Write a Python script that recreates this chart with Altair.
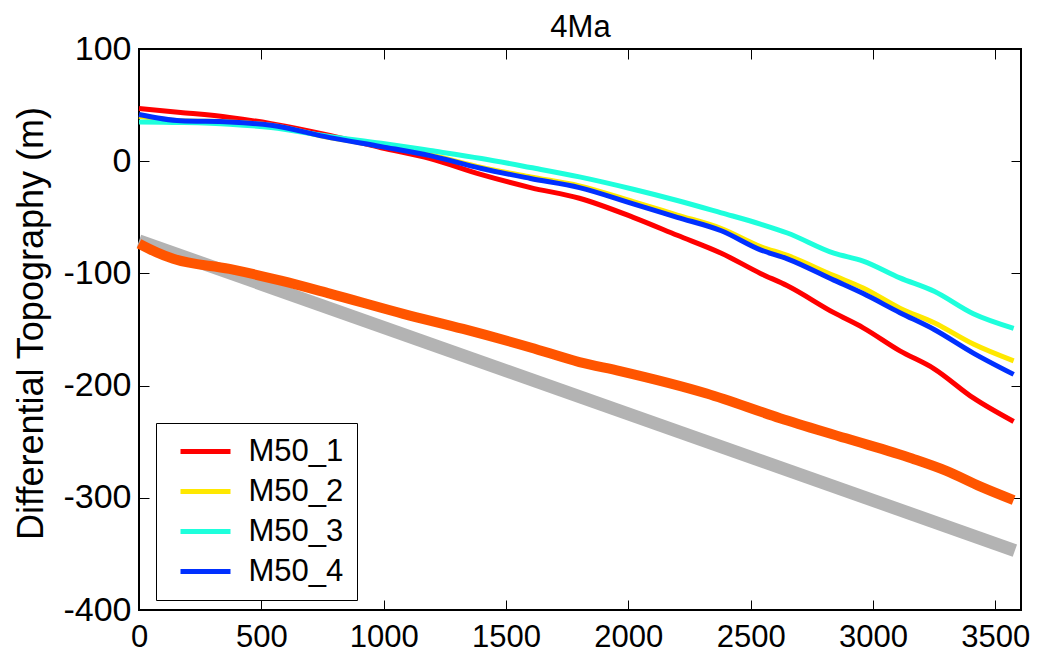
import altair as alt
import pandas as pd

# ---- data ----
x_m50 = [0, 170, 370, 540, 780, 990, 1190, 1400, 1600, 1800, 2020, 2200, 2380,
         2540, 2650, 2840, 2960, 3110, 3250, 3410, 3575]
m50_1 = [47, 43.5, 39, 33.5, 23, 12, 2.4, -12, -23.5, -33, -50, -66, -82,
         -100, -111, -135, -148.5, -169, -185, -211, -232]
m50_2 = [40, 36, 35, 32, 21, 13.5, 5.5, -5.5, -14, -22, -36, -48, -60,
         -76, -84, -102, -113, -131, -144, -163, -178]
m50_3 = [35, 34.5, 33, 30, 22, 16, 9.5, 2.4, -5.6, -14, -25, -35, -46,
         -56, -64, -82, -89, -104, -116, -136, -149]
m50_4 = [41.6, 36, 35, 32, 21, 13, 5, -6.5, -15.4, -23.5, -38, -50, -62,
         -79, -87, -106, -118, -135, -150, -171, -190]

x_orange = [0, 70, 140, 370, 580, 780, 1080, 1325, 1600, 1800, 1966, 2320, 2620,
            2890, 3160, 3300, 3440, 3575]
orange = [-73.5, -81, -87, -96, -106.5, -118, -136, -149.5, -166, -179, -187, -207,
          -229, -247, -265, -276, -290, -302]

x_gray = [0, 3580]
gray = [-71, -347]

series_names = ["M50_1", "M50_2", "M50_3", "M50_4"]
series_colors = ["#ff0000", "#ffe800", "#1effdc", "#0030ff"]

x_ticks = [0, 500, 1000, 1500, 2000, 2500, 3000, 3500]
y_ticks = [-400, -300, -200, -100, 0, 100]

# ---- tables ----
rows = []
for name, vals in zip(series_names, [m50_1, m50_2, m50_3, m50_4]):
    for i, (xv, yv) in enumerate(zip(x_m50, vals)):
        rows.append({"x": xv, "y": yv, "series": name, "order": i})
df_m50 = pd.DataFrame(rows)
df_orange = pd.DataFrame({"x": x_orange, "y": orange, "order": range(len(x_orange))})
df_gray = pd.DataFrame({"x": x_gray, "y": gray, "order": range(len(x_gray))})

FONT = "Liberation Sans"
xscale = alt.Scale(domain=[0, 3605], nice=False, zero=False)
yscale = alt.Scale(domain=[-400, 100], nice=False, zero=False)

# gray layer carries the top/right (label-less) tick axes and the title
gray_layer = alt.Chart(df_gray).mark_line(color="#b3b3b3", strokeWidth=13).encode(
    x=alt.X("x:Q", scale=xscale,
            axis=alt.Axis(orient="top", values=x_ticks, tickSize=10, offset=-10,
                          domain=False, grid=False, labels=False,
                          title="4Ma", titleFont=FONT, titleFontSize=31,
                          titleFontWeight="normal", titleColor="black",
                          titleBaseline="alphabetic", titlePadding=12,
                          tickColor="black", tickWidth=1)),
    y=alt.Y("y:Q", scale=yscale,
            axis=alt.Axis(orient="right", values=y_ticks, tickSize=10, offset=-10,
                          domain=False, grid=False, labels=False, title=None,
                          tickColor="black", tickWidth=1)),
    order="order:O",
)

orange_layer = alt.Chart(df_orange).mark_line(
    color="#ff5500", strokeWidth=10, interpolate="monotone"
).encode(
    x=alt.X("x:Q", scale=xscale, axis=None),
    y=alt.Y("y:Q", scale=yscale, axis=None),
    order="order:O",
)

m50_layer = alt.Chart(df_m50).mark_line(strokeWidth=5, interpolate="monotone").encode(
    x=alt.X("x:Q", scale=xscale,
            axis=alt.Axis(orient="bottom", values=x_ticks, tickSize=10, offset=-10,
                          domain=False, grid=False, title=None,
                          tickColor="black", tickWidth=1,
                          labelFont=FONT, labelFontSize=31, labelColor="black",
                          labelPadding=12.5, labelFlush=False,
                          labelExpr="'' + datum.value")),
    y=alt.Y("y:Q", scale=yscale,
            axis=alt.Axis(orient="left", values=y_ticks, tickSize=10, offset=-10,
                          domain=False, grid=False,
                          title="Differential Topography (m)",
                          titleFont=FONT, titleFontSize=36, titleFontWeight="normal",
                          titleColor="black", titlePadding=12, titleY=274,
                          tickColor="black", tickWidth=1,
                          labelFont=FONT, labelFontSize=34, labelColor="black",
                          labelPadding=8, labelFlush=False,
                          labelExpr="'' + datum.value")),
    color=alt.Color("series:N",
                    scale=alt.Scale(domain=series_names, range=series_colors),
                    legend=alt.Legend(orient="none", legendX=17, legendY=374,
                                      title=None, symbolType="M-2,0H2",
                                      symbolSize=625, symbolStrokeWidth=5,
                                      symbolOffset=21, labelOffset=27.5,
                                      labelFont=FONT, labelFontSize=31,
                                      labelColor="black", rowPadding=8,
                                      padding=13, strokeColor="black",
                                      fillColor="white", cornerRadius=0)),
    detail="series:N",
    order="order:O",
)

chart = alt.layer(gray_layer, orange_layer, m50_layer).resolve_axis(
    x="independent", y="independent"
).properties(
    width=882,
    height=561,
    autosize=alt.AutoSizeParams(type="none"),
    padding={"left": 131, "top": 41, "right": 17, "bottom": 46},
).configure_view(stroke="black", strokeWidth=2)

chart.save("out.html", embed_options={"renderer": "svg", "actions": False})
